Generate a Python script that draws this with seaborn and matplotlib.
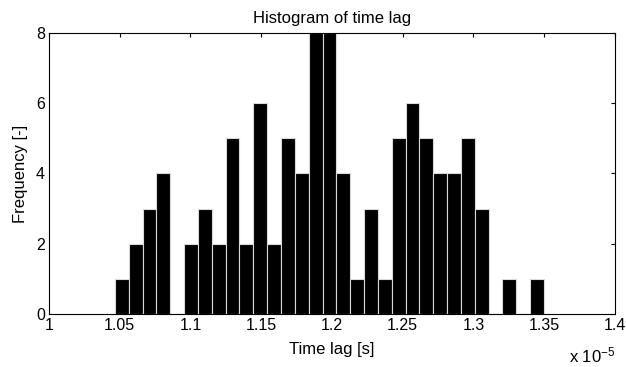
import numpy as np
import pandas as pd
import matplotlib
matplotlib.use('Agg')
import matplotlib.pyplot as plt
import seaborn as sns

# histogram of time lag, values in units of 1e-5 s
counts = [1, 2, 3, 4, 0, 2, 3, 2, 5, 2, 6, 2,
          5, 4, 8, 8, 4, 1, 3, 1, 5, 6, 5, 4,
          4, 5, 3, 0, 1, 0, 1]
lag_min = 1.0466
lag_max = 1.3498
xticks = [1, 1.05, 1.1, 1.15, 1.2, 1.25, 1.3, 1.35, 1.4]
xtick_labels = ['1', '1.05', '1.1', '1.15', '1.2', '1.25', '1.3', '1.35', '1.4']
yticks = [0, 2, 4, 6, 8]

# 31 bins between min and max (matlab hist style)
nbins = len(counts)
edges = np.linspace(lag_min, lag_max, nbins + 1)
df = pd.DataFrame({'lag': (edges[:-1] + edges[1:]) / 2, 'n': counts})

sns.set_style('white')
plt.rcParams['font.family'] = ['Liberation Sans', 'DejaVu Sans']
plt.rcParams['text.color'] = 'black'
plt.rcParams['axes.labelcolor'] = 'black'
plt.rcParams['mathtext.fontset'] = 'custom'
plt.rcParams['mathtext.rm'] = 'Liberation Sans'
plt.rcParams['mathtext.default'] = 'regular'

fig = plt.figure(figsize=(6.26, 3.67), dpi=100)
ax = fig.add_axes([0.0783, 0.1444, 0.904, 0.7657])

sns.histplot(data=df, x='lag', weights='n', bins=nbins,
             binrange=(lag_min, lag_max), ax=ax,
             color='black', edgecolor='#d9d9d9', linewidth=0.8, alpha=1)

ax.set_xlim(1, 1.4)
ax.set_ylim(0, 8)
ax.set_xticks(xticks)
ax.set_xticklabels(xtick_labels)
ax.set_yticks(yticks)
ax.tick_params(direction='in', length=3, width=0.8, top=True, right=True,
               labelsize=11.5, colors='black', pad=3)
for s in ax.spines.values():
    s.set_visible(True)
    s.set_color('black')
    s.set_linewidth(0.8)

ax.set_title('Histogram of time lag', fontsize=12, pad=7, color='black')
ax.set_xlabel('Time lag [s]', fontsize=12, labelpad=6)
ax.set_ylabel('Frequency [-]', fontsize=12, labelpad=6)
fig.text(0.9824, 0.003, r'x 10$^{-5}$', ha='right', va='bottom', fontsize=12)

fig.savefig('out.png', dpi=100)
